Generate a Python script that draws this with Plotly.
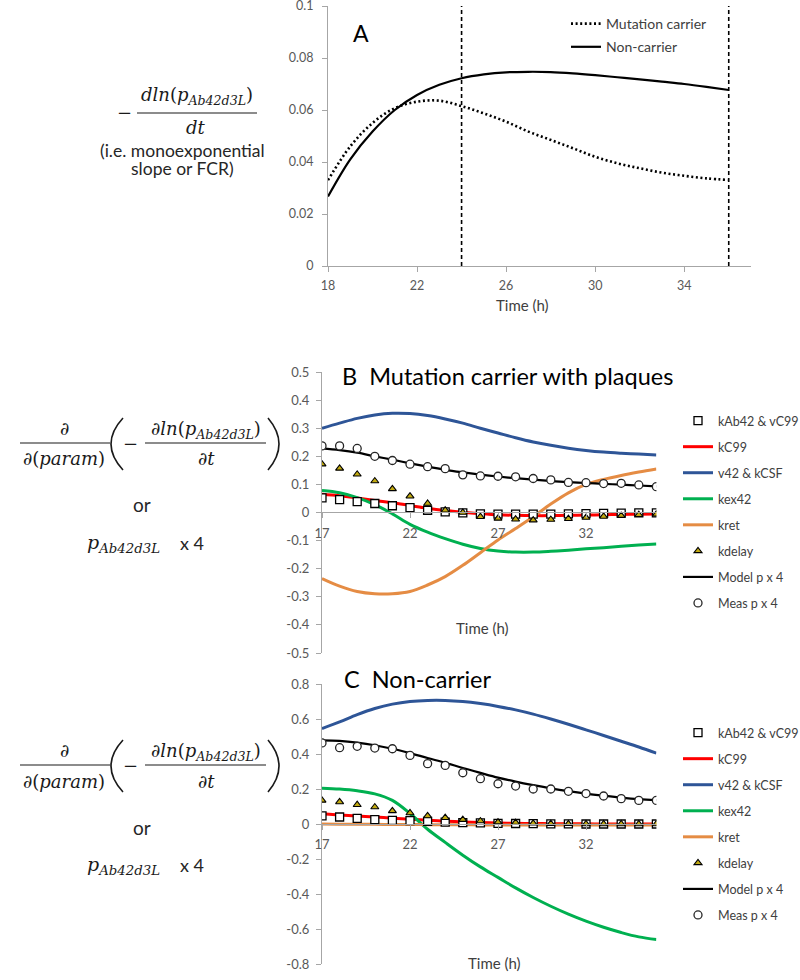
import plotly.graph_objects as go

W, H = 800, 980

# ---------------- data ----------------
time_a = list(range(18, 37))
mutation_carrier = [0.0330, 0.0460, 0.0550, 0.0607, 0.0632, 0.0636, 0.0615, 0.0587, 0.0555, 0.0517,
                    0.0485, 0.0453, 0.0420, 0.0395, 0.0376, 0.0359, 0.0347, 0.0337, 0.0331]
non_carrier = [0.0267, 0.0410, 0.0517, 0.0600, 0.0658, 0.0697, 0.0722, 0.0737, 0.0745, 0.0747,
               0.0746, 0.0741, 0.0734, 0.0726, 0.0718, 0.0709, 0.0700, 0.0689, 0.0677]
window_times = [24, 36]

time_bc = list(range(17, 37))

b_kab42 = [0.052, 0.046, 0.039, 0.032, 0.024, 0.017, 0.008, 0.002, -0.001, -0.005,
           -0.006, -0.006, -0.006, -0.006, -0.005, -0.004, -0.003, -0.002, -0.001, -0.001]
b_kc99 = [0.065, 0.060, 0.052, 0.043, 0.035, 0.025, 0.015, 0.007, 0.001, -0.004,
          -0.008, -0.010, -0.011, -0.011, -0.010, -0.009, -0.008, -0.007, -0.006, -0.005]
b_v42 = [0.300, 0.318, 0.335, 0.347, 0.353, 0.352, 0.345, 0.333, 0.318, 0.300,
         0.283, 0.266, 0.251, 0.239, 0.229, 0.221, 0.215, 0.211, 0.208, 0.205]
b_kex42 = [0.078, 0.070, 0.053, 0.028, -0.005, -0.042, -0.070, -0.093, -0.113, -0.128,
           -0.137, -0.141, -0.141, -0.138, -0.134, -0.129, -0.125, -0.120, -0.116, -0.112]
b_kret = [-0.235, -0.262, -0.281, -0.289, -0.289, -0.281, -0.258, -0.228, -0.188, -0.143,
          -0.098, -0.057, -0.015, 0.030, 0.070, 0.100, 0.118, 0.132, 0.144, 0.155]
b_kdelay = [0.172, 0.157, 0.136, 0.112, 0.084, 0.058, 0.032, 0.008, 0.000, -0.015,
            -0.021, -0.024, -0.027, -0.025, -0.022, -0.018, -0.014, -0.011, -0.008, -0.006]
b_model = [0.228, 0.222, 0.213, 0.200, 0.188, 0.175, 0.163, 0.152, 0.143, 0.135,
           0.128, 0.122, 0.117, 0.112, 0.108, 0.105, 0.102, 0.099, 0.096, 0.093]
b_meas = [0.237, 0.237, 0.228, 0.200, 0.185, 0.172, 0.163, 0.156, 0.134, 0.130,
          0.129, 0.127, 0.121, 0.116, 0.107, 0.106, 0.103, 0.104, 0.098, 0.092]

c_kab42 = [0.046, 0.040, 0.032, 0.025, 0.021, 0.019, 0.015, 0.011, 0.008, 0.006,
           0.004, 0.003, 0.002, 0.001, 0.001, 0.000, 0.000, 0.000, 0.000, 0.000]
c_kc99 = [0.058, 0.052, 0.046, 0.040, 0.033, 0.027, 0.021, 0.016, 0.012, 0.009,
          0.006, 0.004, 0.003, 0.002, 0.001, 0.001, 0.000, 0.000, 0.000, 0.000]
c_v42 = [0.545, 0.583, 0.625, 0.660, 0.685, 0.700, 0.706, 0.706, 0.700, 0.688,
         0.672, 0.652, 0.628, 0.600, 0.570, 0.538, 0.506, 0.473, 0.440, 0.405]
c_kex42 = [0.205, 0.200, 0.190, 0.172, 0.135, 0.060, -0.030, -0.105, -0.178, -0.245,
           -0.305, -0.365, -0.420, -0.470, -0.515, -0.555, -0.590, -0.620, -0.645, -0.660]
c_kret = [0.000, -0.001, -0.002, -0.002, -0.003, -0.003, -0.004, -0.004, -0.004, -0.005,
          -0.005, -0.005, -0.005, -0.005, -0.005, -0.005, -0.005, -0.005, -0.005, -0.005]
c_kdelay = [0.135, 0.126, 0.110, 0.097, 0.075, 0.063, 0.046, 0.036, 0.025, 0.017,
            0.011, 0.008, 0.004, 0.002, 0.001, 0.000, 0.000, 0.000, 0.000, 0.000]
c_model = [0.478, 0.475, 0.465, 0.450, 0.430, 0.405, 0.377, 0.350, 0.320, 0.292,
           0.265, 0.242, 0.222, 0.204, 0.188, 0.174, 0.162, 0.151, 0.142, 0.136]
c_meas = [0.463, 0.436, 0.444, 0.434, 0.430, 0.392, 0.345, 0.335, 0.293, 0.259,
          0.230, 0.217, 0.200, 0.200, 0.187, 0.174, 0.160, 0.145, 0.135, 0.135]

a_yticks = [0, 0.02, 0.04, 0.06, 0.08, 0.1]
a_yticklabels = ["0", "0.02", "0.04", "0.06", "0.08", "0.1"]
a_xticks = [18, 22, 26, 30, 34]
b_yticks = [0.5, 0.4, 0.3, 0.2, 0.1, 0, -0.1, -0.2, -0.3, -0.4, -0.5]
b_yticklabels = ["0.5", "0.4", "0.3", "0.2", "0.1", "0", "-0.1", "-0.2", "-0.3", "-0.4", "-0.5"]
c_yticks = [0.8, 0.6, 0.4, 0.2, 0, -0.2, -0.4, -0.6, -0.8]
c_yticklabels = ["0.8", "0.6", "0.4", "0.2", "0", "-0.2", "-0.4", "-0.6", "-0.8"]
bc_xticks = [17, 22, 27, 32]

# ---------------- helpers ----------------
def px(x):
    return x / W

def py(y):
    return 1 - y / H

SANS = "Lato, 'Open Sans', sans-serif"
SERIF = "'DejaVu Serif', 'Liberation Serif', serif"
AXC = "#A6A6A6"
TXC = "#595959"
EQC = "#1a1a1a"

fig = go.Figure()

# ---------------- Panel A ----------------
fig.add_trace(go.Scatter(x=time_a, y=mutation_carrier, mode="lines", name="Mutation carrier",
                         line=dict(color="black", width=2.6, dash="2px,2.6px", shape="spline"),
                         xaxis="x", yaxis="y", legend="legend", legendgroup="a1"))
fig.add_trace(go.Scatter(x=time_a, y=non_carrier, mode="lines", name="Non-carrier",
                         line=dict(color="black", width=2.2, shape="spline"),
                         xaxis="x", yaxis="y", legend="legend", legendgroup="a2"))
for t in window_times:
    fig.add_trace(go.Scatter(x=[t, t], y=[0, 0.1], mode="lines", showlegend=False,
                             line=dict(color="black", width=1.6, dash="4px,3px"),
                             xaxis="x", yaxis="y", hoverinfo="skip"))

# ---------------- Panels B and C ----------------
colors = {"kC99": "#FF0000", "v42 & kCSF": "#2E5597", "kex42": "#00B050", "kret": "#E58C44",
          "Model p x 4": "#000000"}

def add_panel(xa, ya, leg, kab42, kc99, v42, kex42, kret, kdelay, model, meas):
    lines = [("kC99", kc99, 2), ("v42 & kCSF", v42, 3), ("kex42", kex42, 4), ("kret", kret, 5),
             ("Model p x 4", model, 7)]
    for name, vals, rank in lines:
        w = 2.2 if name == "Model p x 4" else 3
        fig.add_trace(go.Scatter(x=time_bc, y=vals, mode="lines", name=name,
                                 line=dict(color=colors[name], width=w, shape="spline"),
                                 xaxis=xa, yaxis=ya, legend=leg, legendgroup=leg + name,
                                 legendrank=rank))
    fig.add_trace(go.Scatter(x=time_bc, y=kab42, mode="markers", name="kAb42 & vC99",
                             marker=dict(symbol="square", size=8, color="white",
                                         line=dict(color="black", width=1.3)),
                             xaxis=xa, yaxis=ya, legend=leg, legendgroup=leg + "kab", legendrank=1))
    fig.add_trace(go.Scatter(x=time_bc, y=kdelay, mode="markers", name="kdelay",
                             marker=dict(symbol="triangle-up", size=7, color="#C2AA10",
                                         line=dict(color="black", width=1.1)),
                             xaxis=xa, yaxis=ya, legend=leg, legendgroup=leg + "kdel", legendrank=6))
    fig.add_trace(go.Scatter(x=time_bc, y=meas, mode="markers", name="Meas p x 4",
                             marker=dict(symbol="circle", size=8, color="white",
                                         line=dict(color="#262626", width=1.3)),
                             xaxis=xa, yaxis=ya, legend=leg, legendgroup=leg + "meas", legendrank=8))

add_panel("x2", "y2", "legend2", b_kab42, b_kc99, b_v42, b_kex42, b_kret, b_kdelay, b_model, b_meas)
add_panel("x3", "y3", "legend3", c_kab42, c_kc99, c_v42, c_kex42, c_kret, c_kdelay, c_model, c_meas)

# ---------------- axes ----------------
def ax(size=12.5, ticklen=5, standoff=0):
    return dict(showgrid=False, zeroline=False, showline=True, linecolor=AXC, linewidth=1.2,
                ticks="outside", ticklen=ticklen, tickcolor=AXC, tickwidth=1.2,
                tickfont=dict(family=SANS, size=size, color=TXC), ticklabelstandoff=standoff,
                ticklabeloverflow="allow", fixedrange=True)

legfont = dict(family=SANS, size=12.5, color="#404040")

layout = dict(
    width=W, height=H, margin=dict(l=0, r=0, t=0, b=0, autoexpand=False),
    paper_bgcolor="white", plot_bgcolor="rgba(0,0,0,0)",
    font=dict(family=SANS, color=TXC),
    xaxis=dict(domain=[px(328), px(751)], range=[18, 37], tickvals=a_xticks, anchor="y",
               **ax(12.5, 5, 3)),
    yaxis=dict(domain=[py(266), py(6)], range=[0, 0.1], tickvals=a_yticks, ticktext=a_yticklabels,
               anchor="x", **ax(12.5, 5, 6)),
    xaxis2=dict(domain=[px(322), px(656.4)], range=[17, 36], tickvals=bc_xticks, anchor="free",
                position=py(512), **ax(13, 5, 4)),
    yaxis2=dict(domain=[py(653), py(372)], range=[-0.5, 0.5], tickvals=b_yticks, ticktext=b_yticklabels,
                anchor="x2", **ax(13, 5, 4)),
    xaxis3=dict(domain=[px(322), px(656.4)], range=[17, 36], tickvals=bc_xticks, anchor="free",
                position=py(823.7), **ax(13, 5, 4)),
    yaxis3=dict(domain=[py(964), py(684)], range=[-0.8, 0.8], tickvals=c_yticks, ticktext=c_yticklabels,
                anchor="x3", **ax(13, 5, 4)),
    showlegend=True,
    legend=dict(x=px(566), y=py(8), xanchor="left", yanchor="top", bgcolor="rgba(0,0,0,0)",
                font=dict(family=SANS, size=14, color="#404040"), tracegroupgap=2, itemwidth=30),
    legend2=dict(x=px(678), y=py(406), xanchor="left", yanchor="top", bgcolor="rgba(0,0,0,0)",
                 font=legfont, tracegroupgap=6.8, itemwidth=30),
    legend3=dict(x=px(678), y=py(718), xanchor="left", yanchor="top", bgcolor="rgba(0,0,0,0)",
                 font=legfont, tracegroupgap=6.8, itemwidth=30),
)
fig.update_layout(**layout)

# ---------------- annotations & equation text ----------------
ann = []
shapes = []

def text(x, y, s, size=15, family=SANS, color="#262626", xanchor="center"):
    ann.append(dict(x=px(x), y=py(y), xref="paper", yref="paper", text=s, showarrow=False,
                    xanchor=xanchor, yanchor="middle", font=dict(family=family, size=size, color=color)))

def hline(x0, x1, y):
    shapes.append(dict(type="line", xref="paper", yref="paper", x0=px(x0), x1=px(x1), y0=py(y), y1=py(y),
                       line=dict(color=EQC, width=1.2)))

def paren(xend, xbulge, ytop, ybot):
    xc = 2 * xbulge - xend
    ym = (ytop + ybot) / 2
    path = "M {:.5f},{:.5f} Q {:.5f},{:.5f} {:.5f},{:.5f}".format(px(xend), py(ytop), px(xc), py(ym),
                                                                 px(xend), py(ybot))
    shapes.append(dict(type="path", xref="paper", yref="paper", path=path,
                       line=dict(color=EQC, width=1.6)))

# panel titles / labels
text(361, 33, "A", size=23, color="black")
text(340, 376, "B\u00a0\u00a0Mutation carrier with plaques", size=23.5, color="black", xanchor="left")
text(342, 679, "C\u00a0\u00a0Non-carrier", size=23.5, color="black", xanchor="left")
text(522, 305, "Time (h)", size=15, color="#404040")
text(482, 628, "Time (h)", size=15, color="#404040")
text(494, 963, "Time (h)", size=15, color="#404040")

# equation A
text(124, 113, "\u2212", size=18, family=SERIF, color=EQC)
text(197, 96, "<i>dln</i>(<i>p</i><sub><i>Ab42d3L</i></sub>)", size=18, family=SERIF, color=EQC)
text(196, 127, "<i>dt</i>", size=18, family=SERIF, color=EQC)
hline(137, 257, 113)
text(182, 150, "(i.e. monoexponential", size=17.5)
text(182, 168, "slope or FCR)", size=17.5)

def equation_block(off):
    text(64, 428 + off, "<i>\u2202</i>", size=18, family=SERIF, color=EQC)
    text(64, 459 + off, "<i>\u2202</i>(<i>param</i>)", size=18, family=SERIF, color=EQC)
    hline(20, 110, 443 + off)
    paren(123, 111, 418 + off, 470 + off)
    text(130, 443 + off, "\u2212", size=18, family=SERIF, color=EQC)
    text(206, 430 + off, "<i>\u2202ln</i>(<i>p</i><sub><i>Ab42d3L</i></sub>)", size=18, family=SERIF,
         color=EQC)
    text(206, 459 + off, "<i>\u2202t</i>", size=18, family=SERIF, color=EQC)
    hline(145, 266, 443 + off)
    paren(268, 279, 418 + off, 470 + off)
    text(142, 505 + off, "or", size=19)
    text(85, 543 + off, "<i>p</i><sub><i>Ab42d3L</i></sub>", size=19, family=SERIF, color=EQC,
         xanchor="left")
    text(178, 543 + off, "x 4", size=18, xanchor="left")

equation_block(0)
equation_block(322)

fig.update_layout(annotations=ann, shapes=shapes)
fig.write_html("out.html", config={"displayModeBar": False},
               post_script="document.body.style.margin='0px';")
